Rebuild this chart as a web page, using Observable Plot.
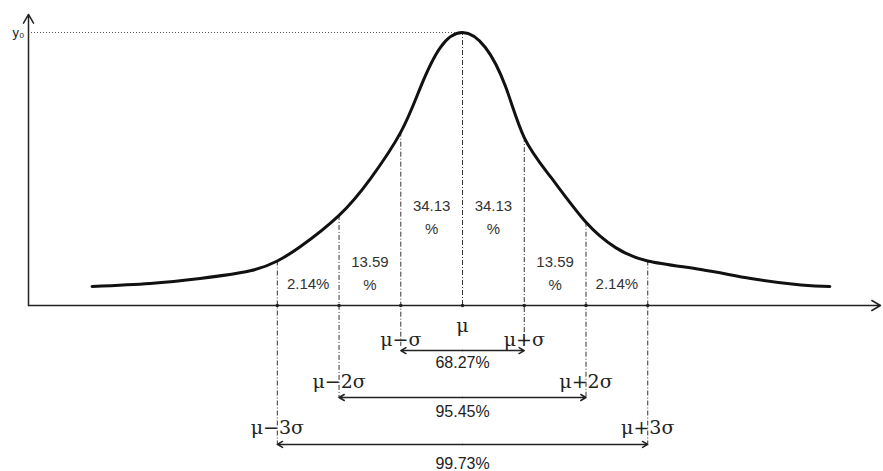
<!DOCTYPE html>
<html><head><meta charset="utf-8">
<script src="https://cdn.jsdelivr.net/npm/d3@7"></script>
<script src="https://cdn.jsdelivr.net/npm/@observablehq/plot@0.6"></script>
<style>body{margin:0;background:#fff}svg{font-family:"Liberation Sans",Arial,sans-serif}</style>
</head><body><div id="chart"></div>
<script>
// curve: x in sigma units from mu, y relative to y0
const curveX = [-6.0, -5.06, -4.25, -3.44, -3.0, -2.63, -2.0, -1.49, -1.0, -0.68, -0.36, 0, 0.37, 0.70, 1.0, 1.43, 2.0, 2.48, 3.0, 3.86, 4.67, 5.48, 5.95];
const curveY = [0.070, 0.081, 0.099, 0.127, 0.163, 0.215, 0.33, 0.465, 0.635, 0.80, 0.945, 1, 0.945, 0.80, 0.615, 0.47, 0.305, 0.212, 0.163, 0.132, 0.099, 0.075, 0.070];
const sigmas = [-3, -2, -1, 1, 2, 3];
const depth = {1: -0.15, 2: -0.34, 3: -0.51};
const bracketY = {1: -0.165, 2: -0.337, 3: -0.509};
const sigmaLabelY = {1: -0.125, 2: -0.28, 3: -0.45};
const coverageY = [-0.21, -0.39, -0.58];
const sigmaLabels = ["μ−3σ", "μ−2σ", "μ−σ", "μ+σ", "μ+2σ", "μ+3σ"];
const coverage = ["68.27%", "95.45%", "99.73%"];
const areaPct = ["2.14%", "13.59\n%", "34.13\n%", "34.13\n%", "13.59\n%", "2.14%"];
const areaMid = [-2.5, -1.5, -0.5, 0.5, 1.5, 2.5];
const areaY = [0.085, 0.125, 0.33, 0.33, 0.125, 0.085];

const curve = curveX.map((x, i) => ({x, y: curveY[i]}));
const yAt = s => curveY[curveX.indexOf(s)];
const verts = sigmas.map(s => ({x: s, y1: yAt(s), y2: depth[Math.abs(s)]}));
const labs = sigmas.map((s, i) => ({x: s, y: sigmaLabelY[Math.abs(s)], t: sigmaLabels[i]}));
const brackets = [1, 2, 3].map(k => ({k, y: bracketY[k], ty: coverageY[k - 1], t: coverage[k - 1]}));
const areas = areaMid.map((x, i) => ({x, y: areaY[i], t: areaPct[i]}));
const dash = "5 2 1 2";

document.getElementById("chart").appendChild(Plot.plot({
  width: 883, height: 471,
  x: {domain: [-7.03, 6.77], range: [28, 880], axis: null},
  y: {domain: [0, 1], range: [305, 32], axis: null},
  marks: [
    Plot.ruleY([1], {x1: -7.03, x2: 0, stroke: "#555", strokeDasharray: "1 2"}),
    Plot.ruleX([0], {y1: 0, y2: 1, stroke: "#333", strokeDasharray: dash}),
    Plot.ruleX(verts, {x: "x", y1: "y1", y2: "y2", stroke: "#333", strokeDasharray: dash}),
    Plot.arrow([0], {x1: -7.03, y1: 0, x2: 6.77, y2: 0, stroke: "#222", strokeWidth: 1.5, headLength: 10}),
    Plot.arrow([0], {x1: -7.03, y1: 0, x2: -7.03, y2: 1.066, stroke: "#222", strokeWidth: 1.5, headLength: 10}),
    Plot.dot(sigmas.concat([0]), {x: d => d, y: 0, r: 1.8, fill: "#222"}),
    Plot.line(curve, {x: "x", y: "y", curve: "natural", stroke: "#111", strokeWidth: 3}),
    Plot.arrow(brackets, {x1: 0, x2: d => d.k, y1: "y", y2: "y", stroke: "#222", headLength: 6}),
    Plot.arrow(brackets, {x1: 0, x2: d => -d.k, y1: "y", y2: "y", stroke: "#222", headLength: 6}),
    Plot.text(brackets, {x: 0, y: "ty", text: "t", fontSize: 16, fill: "#222"}),
    Plot.text(labs, {x: "x", y: "y", text: "t", fontSize: 19, fill: "#222", fontFamily: "DejaVu Serif"}),
    Plot.text(["μ"], {x: 0, y: -0.073, text: d => d, fontSize: 19, fill: "#222", fontFamily: "DejaVu Serif"}),
    Plot.text(areas, {x: "x", y: "y", text: "t", fontSize: 15, fill: "#333", lineHeight: 1.5}),
    Plot.text(["y₀"], {x: -7.03, y: 1, text: d => d, dx: -4, textAnchor: "end", fontSize: 13, fill: "#222"})
  ]
}));
</script></body></html>
